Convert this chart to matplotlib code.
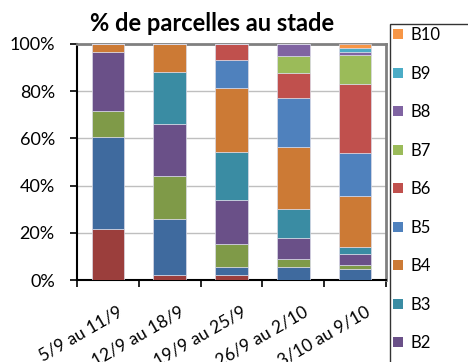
import numpy as np
import matplotlib
matplotlib.use('Agg')
import matplotlib.pyplot as plt
from matplotlib.patches import Patch
from matplotlib.transforms import ScaledTranslation

plt.rcParams['font.family'] = ['Lato', 'DejaVu Sans']

weeks = ['5/9 au 11/9', '12/9 au 18/9', '19/9 au 25/9', '26/9 au 2/10', '3/10 au 9/10']

# stages, bottom of the stack first
stages = ['Levée', 'A', 'B1', 'B2', 'B3', 'B4', 'B5', 'B6', 'B7', 'B8', 'B9', 'B10']
colors = ['#9B3E3C', '#3F6A9E', '#7F9A48', '#6A5088', '#3A8CA3', '#CC7A35',
          '#4F81BD', '#C0504D', '#9BBB59', '#8064A2', '#4BACC6', '#F79646']

# % of plots per stage, one list per stage (same order as weeks)
levee = [21.5, 2.0, 2.0, 0.0, 0.0]
stade_a = [39.2, 24.0, 3.4, 5.4, 4.7]
b1 = [10.9, 18.1, 9.9, 3.5, 1.7]
b2 = [24.9, 21.9, 18.8, 8.8, 4.5]
b3 = [0.0, 22.0, 20.1, 12.3, 3.0]
b4 = [3.5, 12.0, 27.1, 26.3, 21.7]
b5 = [0.0, 0.0, 12.0, 20.8, 18.1]
b6 = [0.0, 0.0, 6.7, 10.6, 29.2]
b7 = [0.0, 0.0, 0.0, 7.0, 12.4]
b8 = [0.0, 0.0, 0.0, 5.3, 1.3]
b9 = [0.0, 0.0, 0.0, 0.0, 1.8]
b10 = [0.0, 0.0, 0.0, 0.0, 1.6]

values = [levee, stade_a, b1, b2, b3, b4, b5, b6, b7, b8, b9, b10]

fig = plt.figure(figsize=(4.68, 3.62), dpi=100)
ax = fig.add_axes([0.1645, 0.2265, 0.66, 0.652])

x = np.arange(len(weeks))
bottom = np.zeros(len(weeks))
for vals, col in zip(values, colors):
    ax.bar(x, vals, 0.53, bottom=bottom, color=col, edgecolor='#D9D9E6', linewidth=0.5, zorder=3)
    bottom += np.array(vals)

ax.set_xlim(-0.5, 4.5)
ax.set_ylim(0, 100)
ax.set_yticks([0, 20, 40, 60, 80, 100])
ax.set_yticklabels(['0%', '20%', '40%', '60%', '80%', '100%'], fontsize=13)
ax.yaxis.grid(True, color='#BFBFBF', linewidth=1, zorder=0)

ax.set_xticks(x)
ax.set_xticklabels(weeks, fontsize=12.5, rotation=30, ha='right', rotation_mode='anchor')
ax.set_xticks(np.arange(-0.5, 5, 1), minor=True)
ax.tick_params(axis='x', which='major', length=0, pad=17)
ax.tick_params(axis='x', which='minor', length=5, width=1.2, direction='out')
ax.tick_params(axis='y', length=5, width=1.2, direction='out', pad=11)
for lab in ax.get_xticklabels():
    lab.set_transform(lab.get_transform() + ScaledTranslation(7 / 72, 0, fig.dpi_scale_trans))

for side in ['left', 'bottom']:
    ax.spines[side].set_color('black')
    ax.spines[side].set_linewidth(1.5)
for side in ['top', 'right']:
    ax.spines[side].set_color('#808080')
    ax.spines[side].set_linewidth(2)

fig.text(0.453, 1 - 31 / 362, '% de parcelles au stade', fontsize=17, fontweight='bold',
         ha='center', va='baseline')

handles = [Patch(facecolor=c, edgecolor='none') for c in colors[::-1]]
leg = fig.legend(handles, stages[::-1], loc='upper left', bbox_to_anchor=(390 / 468, 0.0, 0.3, 1 - 24 / 362),
                 mode='expand', fontsize=12, frameon=True, fancybox=False, borderpad=0.2,
                 handlelength=0.55, handleheight=0.55, handletextpad=0.45, labelspacing=1.35,
                 borderaxespad=0)
leg.get_frame().set_edgecolor('black')
leg.get_frame().set_linewidth(1)

fig.savefig('out.png', dpi=100)
